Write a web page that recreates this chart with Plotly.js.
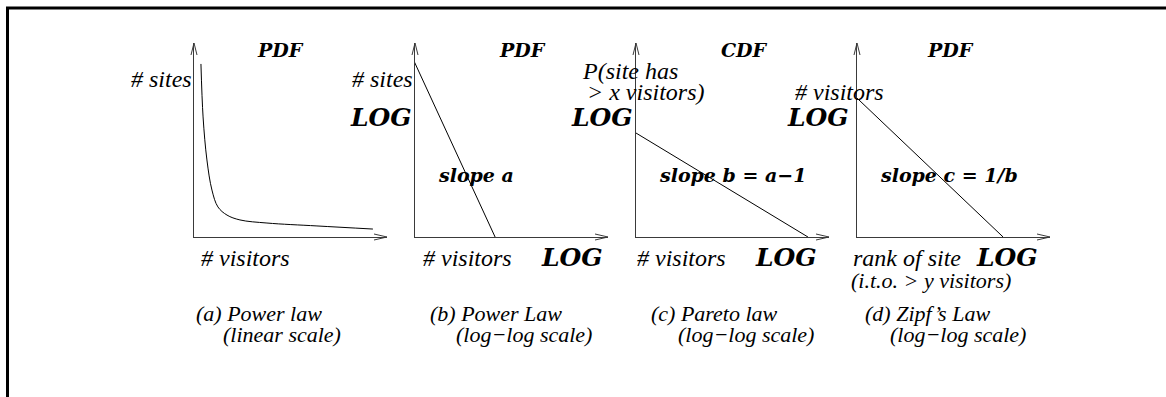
<!DOCTYPE html>
<html lang="en">
<head>
  <meta charset="UTF-8">
  <title>Power law, Pareto and Zipf</title>
  <script src="https://cdn.plot.ly/plotly-3.0.1.min.js"></script>
  <style>
    body { margin: 0; background: #fff; }
    #chart { width: 1166px; height: 397px; }
  </style>
</head>
<body>
  <div id="chart"></div>
  <script>
    // values, in axis units (0..1 up to the arrow tips)
    const powerX = [0.036, 0.047, 0.067, 0.093, 0.124, 0.171, 0.238, 0.378, 0.637, 0.927];
    const powerY = [0.892, 0.619, 0.397, 0.242, 0.155, 0.113, 0.088, 0.072, 0.057, 0.041];
    const powerLogX = [-0.015, 0.415];
    const powerLogY = [0.928, 0];
    const paretoX = [0, 0.891];
    const paretoY = [0.536, 0];
    const zipfX = [0, 0.757];
    const zipfY = [0.716, 0];

    const plotTitles = ['PDF', 'PDF', 'CDF', 'PDF'];
    const xLabels = ['# visitors', '# visitors', '# visitors', 'rank of site'];
    const slopeLabels = ['', 'slope a', 'slope b = a\u22121', 'slope c = 1/b'];
    const captions = ['(a) Power law', '(b) Power Law', '(c) Pareto law', '(d) Zipf\u2019s Law'];
    const subCaptions = ['(linear scale)', '(log\u2212log scale)', '(log\u2212log scale)', '(log\u2212log scale)'];

    const W = 1166, H = 397;
    const axisColor = '#3a3a3a';
    const panelLeft = [194, 415, 636, 857];   // y axis position of each panel (px)
    const span = 193, tipY = 43, baseY = 237;

    const px = x => x / W;
    const py = y => 1 - y / H;

    const times = '"Liberation Serif", "Times New Roman", Times, serif';
    const serif = { family: times, size: 24, style: 'italic', color: '#000' };
    const capFont = { family: times, size: 22, style: 'italic', color: '#000' };
    const headFont = { family: 'DejaVu Serif', size: 19, style: 'italic', weight: 'bold', color: '#000' };
    const logFont = { family: 'DejaVu Serif', size: 25, style: 'italic', weight: 'bold', color: '#000' };
    const slopeFont = { family: 'DejaVu Serif', size: 19, style: 'italic', weight: 'bold', color: '#000' };

    function note(text, x, y, anchor, font) {
      return {
        xref: 'paper', yref: 'paper', x: px(x), y: py(y),
        xanchor: anchor, yanchor: 'middle', text: text,
        showarrow: false, font: font, borderpad: 0
      };
    }

    const series = [[powerX, powerY, 'spline'], [powerLogX, powerLogY, 'linear'],
                    [paretoX, paretoY, 'linear'], [zipfX, zipfY, 'linear']];

    const traces = series.map((s, i) => ({
      x: s[0], y: s[1],
      xaxis: i ? 'x' + (i + 1) : 'x',
      yaxis: i ? 'y' + (i + 1) : 'y',
      type: 'scatter', mode: 'lines',
      line: { color: '#000', width: 1, shape: s[2], smoothing: 1 },
      hoverinfo: 'skip'
    }));

    const layout = {
      width: W, height: H,
      margin: { l: 0, r: 0, t: 0, b: 0 },
      paper_bgcolor: '#fff', plot_bgcolor: 'rgba(0,0,0,0)',
      showlegend: false,
      annotations: [],
      shapes: [
        // page frame
        { type: 'line', xref: 'paper', yref: 'paper', x0: px(6), x1: 1, y0: py(8), y1: py(8),
          line: { color: '#000', width: 3 } },
        { type: 'line', xref: 'paper', yref: 'paper', x0: px(7.5), x1: px(7.5), y0: py(7), y1: 0,
          line: { color: '#000', width: 3 } }
      ]
    };

    panelLeft.forEach((x0, i) => {
      const n = i ? String(i + 1) : '';
      const ax = {
        domain: [px(x0), px(x0 + span)], range: [0, 1],
        showgrid: false, zeroline: false, showticklabels: false, ticks: '',
        showline: true, linecolor: axisColor, linewidth: 1, fixedrange: true
      };
      layout['xaxis' + n] = Object.assign({}, ax, { anchor: 'y' + n });
      layout['yaxis' + n] = Object.assign({}, ax, { domain: [py(baseY), py(tipY)], anchor: 'x' + n });

      // arrow heads
      const x1 = x0 + span;
      layout.shapes.push({
        type: 'path', xref: 'paper', yref: 'paper',
        path: `M${px(x1 - 13)},${py(baseY - 3)} L${px(x1)},${py(baseY)} L${px(x1 - 13)},${py(baseY + 3)}`,
        line: { color: axisColor, width: 1 }
      });
      layout.shapes.push({
        type: 'path', xref: 'paper', yref: 'paper',
        path: `M${px(x0 - 3)},${py(tipY + 12)} L${px(x0)},${py(tipY)} L${px(x0 + 3)},${py(tipY + 12)}`,
        line: { color: axisColor, width: 1 }
      });
    });

    const A = layout.annotations;
    // titles
    [280, 522, 744, 950].forEach((x, i) => A.push(note(plotTitles[i], x, 50, 'center', headFont)));
    // y labels
    A.push(note('# sites', 193, 79, 'right', serif));
    A.push(note('# sites', 414, 79, 'right', serif));
    A.push(note('P(site has', 581, 71, 'left', serif));
    A.push(note('> x visitors)', 586, 92, 'left', serif));
    A.push(note('# visitors', 794, 92, 'left', serif));
    // LOG on y axes
    [413, 634, 850].forEach(x => A.push(note('LOG', x, 117, 'right', logFont)));
    // slopes
    [437, 658, 879].forEach((x, i) => A.push(note(slopeLabels[i + 1], x, 175, 'left', slopeFont)));
    // x labels
    [200, 422, 636, 852].forEach((x, i) => A.push(note(xLabels[i], x, 258, 'left', serif)));
    [540, 754, 975].forEach(x => A.push(note('LOG', x, 257, 'left', logFont)));
    A.push(note('(i.t.o. > y visitors)', 850, 280, 'left', capFont));
    // captions
    [195, 429, 650, 864].forEach((x, i) => A.push(note(captions[i], x, 313, 'left', capFont)));
    [222, 455, 677, 889].forEach((x, i) => A.push(note(subCaptions[i], x, 334, 'left', capFont)));

    Plotly.newPlot('chart', traces, layout, { displayModeBar: false, staticPlot: true });
  </script>
</body>
</html>
